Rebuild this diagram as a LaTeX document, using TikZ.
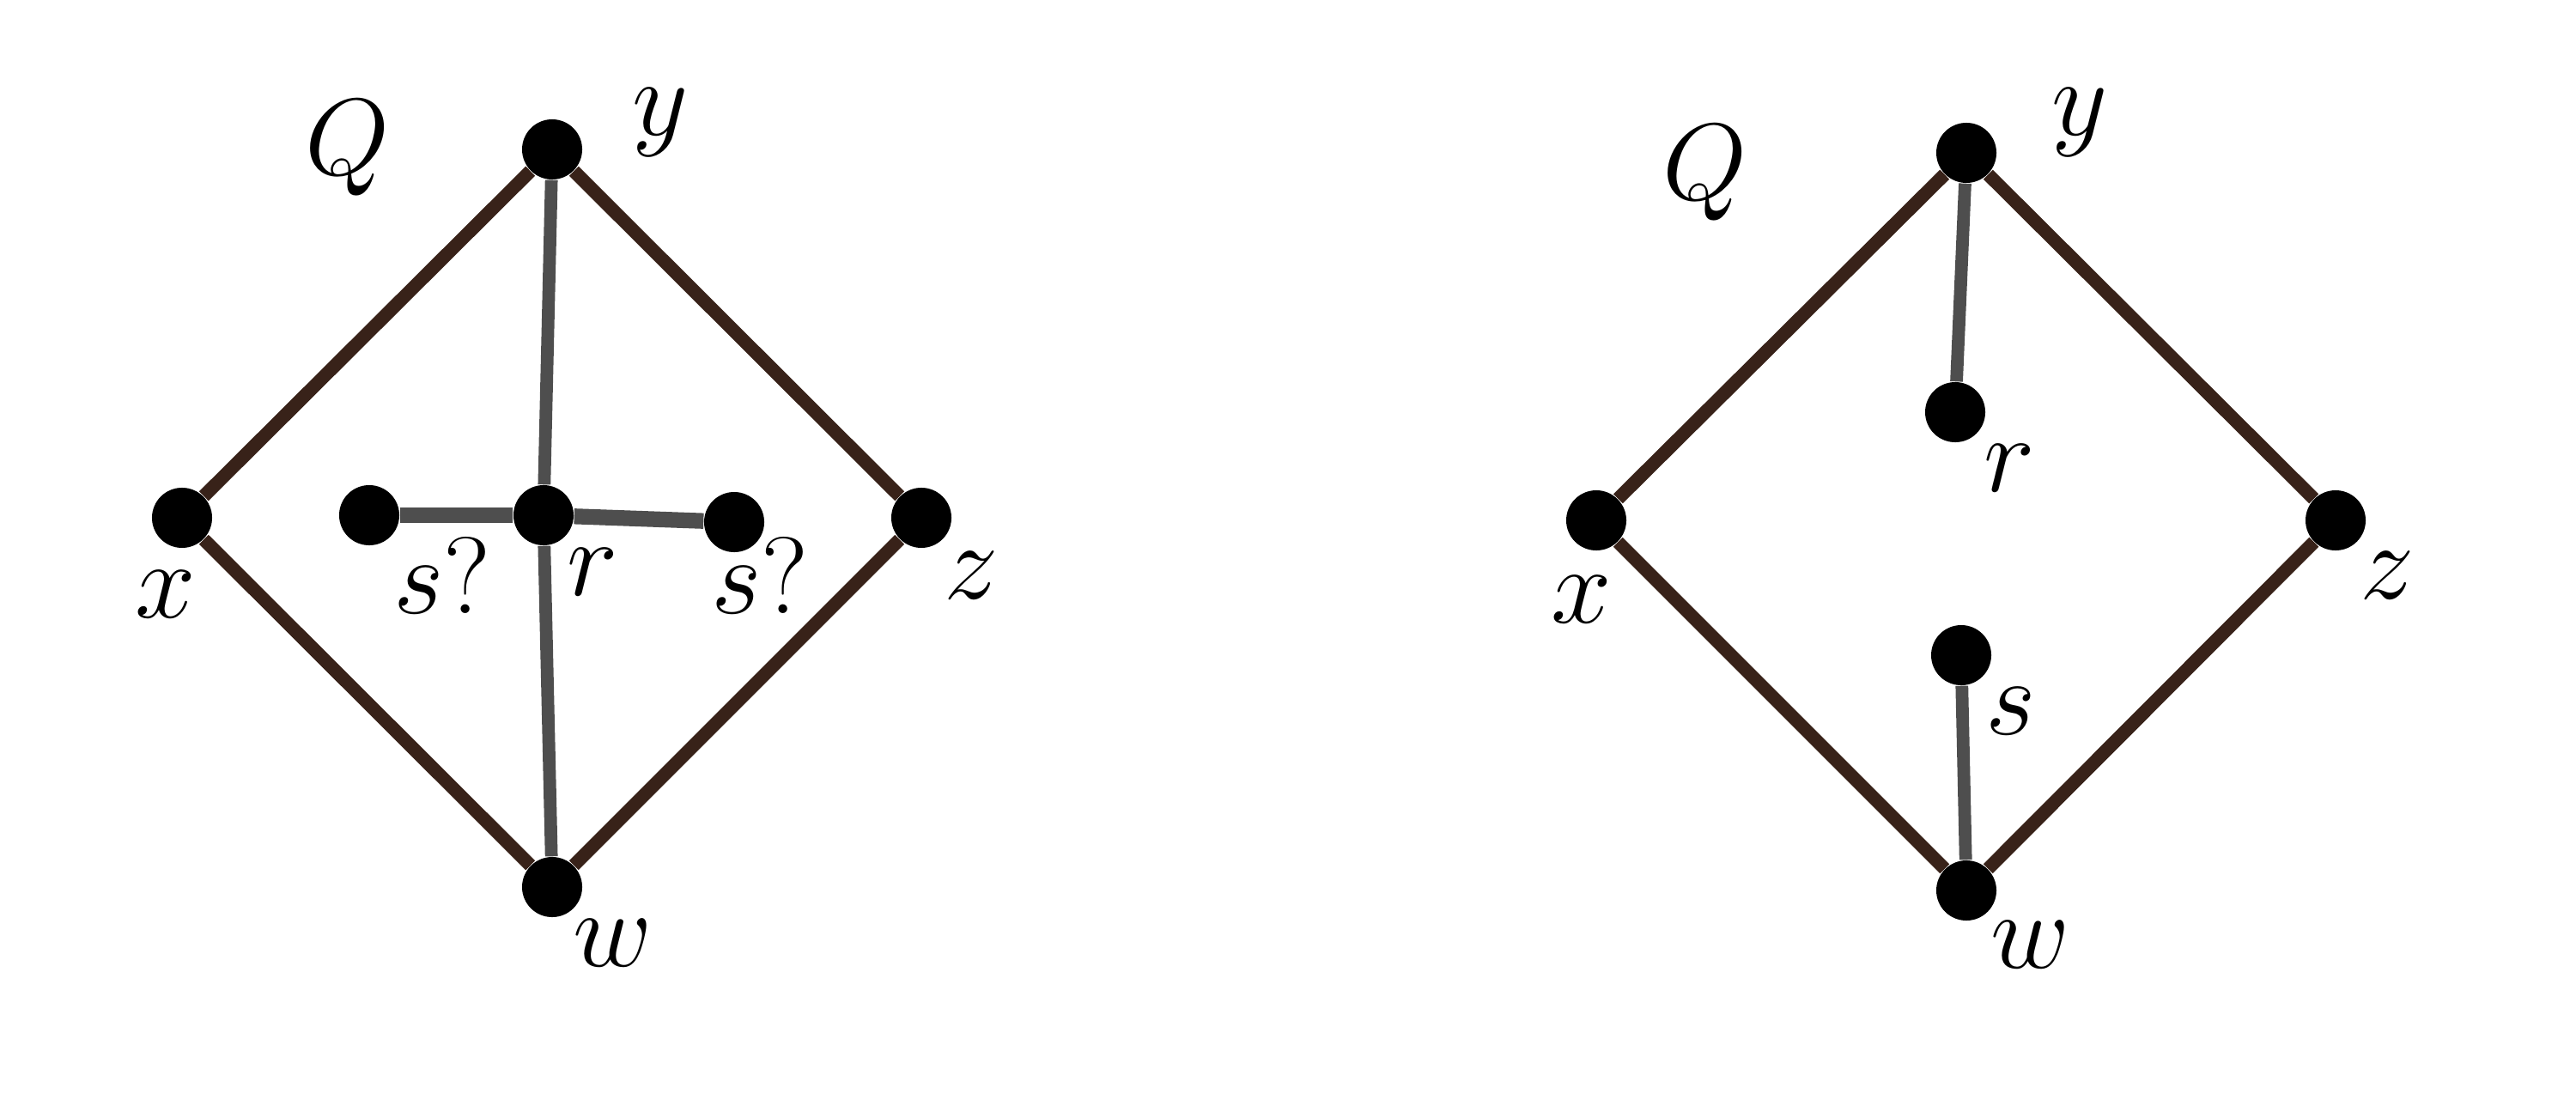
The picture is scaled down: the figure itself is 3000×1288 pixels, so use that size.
\documentclass[tikz,border=0pt]{standalone}
\usepackage{tikz}
\definecolor{edgebrown}{RGB}{56,34,25}
\definecolor{edgegrey}{RGB}{78,78,78}
\begin{document}
\begin{tikzpicture}[x=0.01cm,y=-0.01cm,
  vtx/.style={circle,fill=black,inner sep=0pt,minimum size=0.7cm},
  outer/.style={draw=edgebrown,line width=4.4pt},
  inner/.style={draw=edgegrey,line width=4.2pt},
  lbl/.style={inner sep=0pt,font=\Huge,scale=1.45}]
\useasboundingbox (0,0) rectangle (3000,1288);
% left diagram
\node[vtx] (ly) at (643,174) {};
\node[vtx] (lx) at (212,603) {};
\node[vtx] (lz) at (1073,603) {};
\node[vtx] (lw) at (643,1033) {};
\node[vtx] (lr) at (633,600) {};
\node[vtx] (lsa) at (430,600) {};
\node[vtx] (lsb) at (855,608) {};
\draw[outer] (lx) -- (ly);
\draw[outer] (ly) -- (lz);
\draw[outer] (lz) -- (lw);
\draw[outer] (lw) -- (lx);
\draw[inner] (ly) -- (lr);
\draw[inner] (lr) -- (lw);
\draw[inner,line width=5.2pt] (lsa) -- (lr);
\draw[inner,line width=5.2pt] (lr) -- (lsb);
\node[lbl] (lQ) at (405,172) {$Q$};
\node[lbl] (lyl) at (769,143) {$y$};
\node[lbl] (lxl) at (193,692) {$x$};
\node[lbl] (lsal) at (515,670) {$s?$};
\node[lbl] (lrl) at (690,666) {$r$};
\node[lbl] (lsbl) at (885,670) {$s?$};
\node[lbl] (lzl) at (1131,670) {$z$};
\node[lbl] (lwl) at (714,1098) {$w$};
% right diagram
\node[vtx] (ry) at (2290,178) {};
\node[vtx] (rx) at (1859,606) {};
\node[vtx] (rz) at (2720,606) {};
\node[vtx] (rw) at (2290,1037) {};
\node[vtx] (rr) at (2277,480) {};
\node[vtx] (rs) at (2284,763) {};
\draw[outer] (rx) -- (ry);
\draw[outer] (ry) -- (rz);
\draw[outer] (rz) -- (rw);
\draw[outer] (rw) -- (rx);
\draw[inner] (ry) -- (rr);
\draw[inner] (rs) -- (rw);
\node[lbl] (rQ) at (1986,201) {$Q$};
\node[lbl] (ryl) at (2422,143) {$y$};
\node[lbl] (rrl) at (2340,545) {$r$};
\node[lbl] (rxl) at (1842,698) {$x$};
\node[lbl] (rsl) at (2342,828) {$s$};
\node[lbl] (rzl) at (2780,670) {$z$};
\node[lbl] (rwl) at (2365,1100) {$w$};
\end{tikzpicture}
\end{document}
